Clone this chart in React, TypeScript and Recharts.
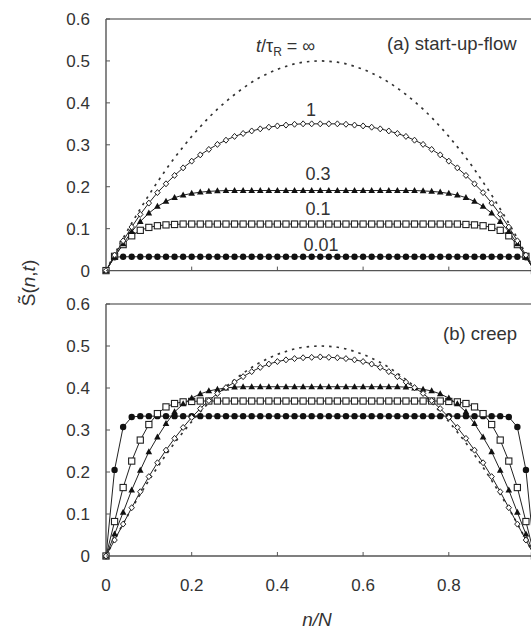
import { LineChart, Line, XAxis, YAxis, ReferenceLine } from 'recharts';

// n/N positions of the chain segments
const nN = [
  0, 0.02, 0.04, 0.06, 0.08, 0.1, 0.12, 0.14, 0.16, 0.18, 0.2, 0.22, 0.24, 0.26, 0.28, 0.3, 0.32,
  0.34, 0.36, 0.38, 0.4, 0.42, 0.44, 0.46, 0.48, 0.5, 0.52, 0.54, 0.56, 0.58, 0.6, 0.62, 0.64,
  0.66, 0.68, 0.7, 0.72, 0.74, 0.76, 0.78, 0.8, 0.82, 0.84, 0.86, 0.88, 0.9, 0.92, 0.94, 0.96,
  0.98, 1,
];

// t/τR = ∞ (steady state, same in both panels)
const sInf = [
  0, 0.039, 0.077, 0.113, 0.147, 0.18, 0.211, 0.241, 0.269, 0.295, 0.32, 0.343, 0.365, 0.385,
  0.403, 0.42, 0.435, 0.449, 0.461, 0.471, 0.48, 0.487, 0.493, 0.497, 0.499, 0.5, 0.499, 0.497,
  0.493, 0.487, 0.48, 0.471, 0.461, 0.449, 0.435, 0.42, 0.403, 0.385, 0.365, 0.343, 0.32, 0.295,
  0.269, 0.241, 0.211, 0.18, 0.147, 0.113, 0.077, 0.039, 0,
];

// (a) start-up flow
const startup1 = [
  0, 0.037, 0.071, 0.104, 0.134, 0.161, 0.186, 0.207, 0.227, 0.245, 0.261, 0.276, 0.289, 0.301,
  0.311, 0.32, 0.327, 0.333, 0.338, 0.342, 0.345, 0.347, 0.349, 0.35, 0.35, 0.35, 0.35, 0.35,
  0.349, 0.347, 0.345, 0.342, 0.338, 0.333, 0.327, 0.32, 0.311, 0.301, 0.289, 0.276, 0.261, 0.245,
  0.227, 0.207, 0.186, 0.161, 0.134, 0.104, 0.071, 0.037, 0,
];
const startup03 = [
  0, 0.033, 0.064, 0.093, 0.117, 0.137, 0.153, 0.165, 0.174, 0.18, 0.184, 0.187, 0.189, 0.19,
  0.191, 0.191, 0.191, 0.191, 0.191, 0.191, 0.191, 0.191, 0.191, 0.191, 0.191, 0.191, 0.191,
  0.191, 0.191, 0.191, 0.191, 0.191, 0.191, 0.191, 0.191, 0.191, 0.191, 0.19, 0.189, 0.187,
  0.184, 0.18, 0.174, 0.165, 0.153, 0.137, 0.117, 0.093, 0.064, 0.033, 0,
];
const startup01 = [
  0, 0.034, 0.062, 0.083, 0.096, 0.103, 0.107, 0.109, 0.11, 0.111, 0.111, 0.111, 0.111, 0.111,
  0.111, 0.111, 0.111, 0.111, 0.111, 0.111, 0.111, 0.111, 0.111, 0.111, 0.111, 0.111, 0.111,
  0.111, 0.111, 0.111, 0.111, 0.111, 0.111, 0.111, 0.111, 0.111, 0.111, 0.111, 0.111, 0.111,
  0.111, 0.111, 0.11, 0.109, 0.107, 0.103, 0.096, 0.083, 0.062, 0.034, 0,
];
const startup001 = [
  0, 0.032, 0.033, 0.033, 0.033, 0.033, 0.033, 0.033, 0.033, 0.033, 0.033, 0.033, 0.033, 0.033,
  0.033, 0.033, 0.033, 0.033, 0.033, 0.033, 0.033, 0.033, 0.033, 0.033, 0.033, 0.033, 0.033,
  0.033, 0.033, 0.033, 0.033, 0.033, 0.033, 0.033, 0.033, 0.033, 0.033, 0.033, 0.033, 0.033,
  0.033, 0.033, 0.033, 0.033, 0.033, 0.033, 0.033, 0.033, 0.033, 0.032, 0,
];

// (b) creep
const creep1 = [
  0, 0.038, 0.076, 0.115, 0.153, 0.189, 0.222, 0.252, 0.28, 0.306, 0.33, 0.351, 0.37, 0.387,
  0.401, 0.414, 0.427, 0.439, 0.449, 0.457, 0.463, 0.467, 0.47, 0.472, 0.473, 0.474, 0.473,
  0.472, 0.47, 0.467, 0.463, 0.457, 0.449, 0.439, 0.427, 0.414, 0.401, 0.387, 0.37, 0.351, 0.33,
  0.306, 0.28, 0.252, 0.222, 0.189, 0.153, 0.115, 0.076, 0.038, 0,
];
const creep03 = [
  0, 0.052, 0.104, 0.157, 0.204, 0.248, 0.283, 0.315, 0.343, 0.362, 0.376, 0.386, 0.393, 0.397,
  0.4, 0.402, 0.403, 0.403, 0.403, 0.403, 0.403, 0.403, 0.403, 0.403, 0.403, 0.403, 0.403, 0.403,
  0.403, 0.403, 0.403, 0.403, 0.403, 0.403, 0.403, 0.402, 0.4, 0.397, 0.393, 0.386, 0.376, 0.362,
  0.343, 0.315, 0.283, 0.248, 0.204, 0.157, 0.104, 0.052, 0,
];
const creep01 = [
  0, 0.082, 0.163, 0.226, 0.276, 0.313, 0.339, 0.355, 0.363, 0.367, 0.368, 0.369, 0.369, 0.369,
  0.369, 0.369, 0.369, 0.369, 0.369, 0.369, 0.369, 0.369, 0.369, 0.369, 0.369, 0.369, 0.369,
  0.369, 0.369, 0.369, 0.369, 0.369, 0.369, 0.369, 0.369, 0.369, 0.369, 0.369, 0.369, 0.369,
  0.368, 0.367, 0.363, 0.355, 0.339, 0.313, 0.276, 0.226, 0.163, 0.082, 0,
];
const creep001 = [
  0, 0.205, 0.307, 0.331, 0.333, 0.333, 0.333, 0.333, 0.333, 0.333, 0.333, 0.333, 0.333, 0.333,
  0.333, 0.333, 0.333, 0.333, 0.333, 0.333, 0.333, 0.333, 0.333, 0.333, 0.333, 0.333, 0.333,
  0.333, 0.333, 0.333, 0.333, 0.333, 0.333, 0.333, 0.333, 0.333, 0.333, 0.333, 0.333, 0.333,
  0.333, 0.333, 0.333, 0.333, 0.333, 0.333, 0.333, 0.331, 0.307, 0.205, 0,
];

const yTicks = [0, 0.1, 0.2, 0.3, 0.4, 0.5, 0.6];
const xTicks = [0, 0.2, 0.4, 0.6, 0.8];

const FONT = '"Liberation Sans", Arial, sans-serif';
const INK = '#222';
const AXIS = '#555';

const startupData = nN.map((x, i) => ({
  x,
  inf: sInf[i],
  t1: startup1[i],
  t03: startup03[i],
  t01: startup01[i],
  t001: startup001[i],
}));

const creepData = nN.map((x, i) => ({
  x,
  inf: sInf[i],
  t1: creep1[i],
  t03: creep03[i],
  t01: creep01[i],
  t001: creep001[i],
}));

// markers
const diamondDot = (p: any) => {
  if (p.cx == null || p.cy == null) return <g key={`d${p.index}`} />;
  const { cx, cy } = p;
  return (
    <polygon
      key={`d${p.index}`}
      points={`${cx},${cy - 3} ${cx + 2.7},${cy} ${cx},${cy + 3} ${cx - 2.7},${cy}`}
      fill="#fff"
      stroke={INK}
      strokeWidth={1}
    />
  );
};
const triangleDot = (p: any) => {
  if (p.cx == null || p.cy == null) return <g key={`t${p.index}`} />;
  const { cx, cy } = p;
  return (
    <polygon
      key={`t${p.index}`}
      points={`${cx},${cy - 3.6} ${cx + 3.3},${cy + 2.4} ${cx - 3.3},${cy + 2.4}`}
      fill="#111"
    />
  );
};
const squareDot = (p: any) => {
  if (p.cx == null || p.cy == null) return <g key={`s${p.index}`} />;
  return (
    <rect
      key={`s${p.index}`}
      x={p.cx - 3.1}
      y={p.cy - 3.1}
      width={6.2}
      height={6.2}
      fill="#fff"
      stroke={INK}
      strokeWidth={1.1}
    />
  );
};
const circleDot = (p: any) => {
  if (p.cx == null || p.cy == null) return <g key={`c${p.index}`} />;
  return <circle key={`c${p.index}`} cx={p.cx} cy={p.cy} r={3.2} fill="#111" />;
};

// inward tick marks, labels drawn by hand
const YTick = (p: any) => (
  <g>
    <line x1={p.x} y1={p.y} x2={p.x + 4} y2={p.y} stroke={AXIS} strokeWidth={1} />
    <text
      x={p.x - 16}
      y={p.y}
      dy="0.36em"
      textAnchor="end"
      fontSize={17}
      fontFamily={FONT}
      fill="#333"
    >
      {p.payload.value}
    </text>
  </g>
);

const makeXTick = (showLabel: boolean) => (p: any) => (
  <g>
    {p.payload.value !== 0 && (
      <line x1={p.x} y1={p.y} x2={p.x} y2={p.y - 4} stroke={AXIS} strokeWidth={1} />
    )}
    {showLabel && (
      <text
        x={p.x}
        y={p.y + 29}
        dy="0.36em"
        textAnchor="middle"
        fontSize={17}
        fontFamily={FONT}
        fill="#333"
      >
        {p.payload.value}
      </text>
    )}
  </g>
);

const Panel = ({ data, showX }: { data: any[]; showX: boolean }) => (
  <LineChart
    width={560}
    height={showX ? 345 : 300}
    data={data}
    margin={{ top: 19, right: 25.5, bottom: showX ? 34 : 0, left: 0 }}
  >
    <XAxis
      dataKey="x"
      type="number"
      domain={[0, 1]}
      ticks={xTicks}
      height={showX ? 40 : 29.4}
      tickSize={0}
      tickMargin={0}
      tickLine={false}
      axisLine={{ stroke: AXIS, strokeWidth: 1.4 }}
      tick={makeXTick(showX)}
      interval={0}
    />
    <YAxis
      type="number"
      domain={[0, 0.6]}
      ticks={yTicks}
      width={106}
      tickSize={0}
      tickMargin={0}
      tickLine={false}
      axisLine={{ stroke: AXIS, strokeWidth: 1.4 }}
      tick={YTick}
      interval={0}
    />
    <ReferenceLine y={0.6} stroke="#777" strokeWidth={1.4} />
    <Line
      dataKey="inf"
      type="monotone"
      stroke="#333"
      strokeWidth={1.7}
      strokeDasharray="2.5 5"
      dot={false}
      isAnimationActive={false}
    />
    <Line dataKey="t001" type="linear" stroke={INK} strokeWidth={1} dot={circleDot} isAnimationActive={false} />
    <Line dataKey="t01" type="linear" stroke={INK} strokeWidth={1} dot={squareDot} isAnimationActive={false} />
    <Line dataKey="t03" type="linear" stroke={INK} strokeWidth={1} dot={triangleDot} isAnimationActive={false} />
    <Line dataKey="t1" type="linear" stroke={INK} strokeWidth={1} dot={diamondDot} isAnimationActive={false} />
  </LineChart>
);

export default function App() {
  return (
    <div
      style={{
        position: 'fixed',
        left: 0,
        top: 0,
        width: 531,
        height: 630,
        overflow: 'hidden',
        background: '#fff',
        fontFamily: FONT,
      }}
    >
      <div style={{ position: 'absolute', left: 0, top: 0 }}>
        <Panel data={startupData} showX={false} />
      </div>
      <div style={{ position: 'absolute', left: 0, top: 285 }}>
        <Panel data={creepData} showX={true} />
      </div>
      <svg
        width={531}
        height={630}
        style={{ position: 'absolute', left: 0, top: 0, pointerEvents: 'none' }}
        fontFamily={FONT}
        fill="#333"
      >
        <text x={256} y={52} fontSize={18}>
          <tspan fontStyle="italic">t</tspan>/τ
          <tspan fontSize={12} dy={4}>R</tspan>
          <tspan dy={-4}> = ∞</tspan>
        </text>
        <text x={387} y={50} fontSize={18.5}>(a) start-up-flow</text>
        <text x={311} y={116} fontSize={18} textAnchor="middle">1</text>
        <text x={318} y={180} fontSize={18} textAnchor="middle">0.3</text>
        <text x={318} y={215} fontSize={18} textAnchor="middle">0.1</text>
        <text x={321} y={251} fontSize={18} textAnchor="middle">0.01</text>
        <text x={443} y={340} fontSize={18.5}>(b) creep</text>
        <text x={317} y={626} fontSize={19} textAnchor="middle" fontStyle="italic">n/N</text>
        <text
          x={28}
          y={283}
          fontSize={19}
          textAnchor="middle"
          dominantBaseline="central"
          transform="rotate(-90 28 283)"
        >
          S̃(<tspan fontStyle="italic">n</tspan>,<tspan fontStyle="italic">t</tspan>)
        </text>
      </svg>
    </div>
  );
}
